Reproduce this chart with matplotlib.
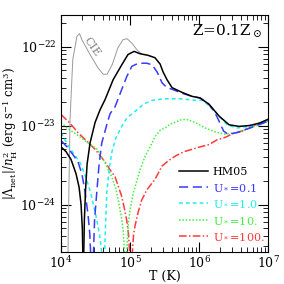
import numpy as np
import matplotlib
matplotlib.use("Agg")
import matplotlib.pyplot as plt

plt.rcParams['font.family'] = 'DejaVu Serif'
plt.rcParams['mathtext.fontset'] = 'dejavuserif'

# log10(T) and log10(|Lambda_net|/nH^2), two branches per curve (below / above the zero crossing)
cie_logT = [4.10, 4.116, 4.13, 4.17, 4.23, 4.268, 4.30, 4.42, 4.536, 4.61, 4.667, 4.74, 4.826, 4.90, 4.957, 5.03, 5.10, 5.16]
cie_logL = [-24.65, -23.68, -22.92, -22.16, -21.87, -21.835, -21.91, -22.10, -22.27, -22.35, -22.35, -22.23, -22.01, -21.91, -21.90, -21.96, -22.04, -22.09]

hm_lo_T = [4.0, 4.072, 4.145, 4.217, 4.261, 4.29, 4.309, 4.316]
hm_lo_L = [-23.27, -23.33, -23.43, -23.61, -23.78, -24.0, -24.32, -24.65]
hm_hi_T = [4.328, 4.338, 4.355, 4.377, 4.42, 4.493, 4.565, 4.638, 4.754, 4.88, 4.97, 5.058, 5.145, 5.26, 5.36,
           5.435, 5.478, 5.536, 5.609, 5.754, 5.899, 6.014, 6.145, 6.29, 6.435, 6.58, 6.725, 6.87, 7.0]
hm_hi_L = [-24.65, -24.19, -23.81, -23.49, -23.22, -22.96, -22.80, -22.67, -22.42, -22.23, -22.10, -22.06, -22.09, -22.11, -22.14,
           -22.22, -22.32, -22.42, -22.52, -22.58, -22.63, -22.65, -22.73, -22.88, -22.99, -23.01, -23.00, -22.97, -22.92]

u01_lo_T = [4.0, 4.087, 4.174, 4.246, 4.304, 4.348, 4.391, 4.417, 4.43]
u01_lo_L = [-23.19, -23.27, -23.37, -23.46, -23.62, -23.84, -24.13, -24.38, -24.65]
u01_hi_T = [4.468, 4.486, 4.517, 4.551, 4.59, 4.662, 4.71, 4.783, 4.88, 4.952, 5.025, 5.12, 5.242, 5.319, 5.391, 5.464,
            5.536, 5.609, 5.754, 5.899, 6.014, 6.13, 6.203, 6.26, 6.304, 6.355, 6.42, 6.546, 6.739, 6.928, 7.0]
u01_hi_L = [-24.65, -24.19, -23.85, -23.49, -23.22, -22.99, -22.85, -22.76, -22.54, -22.38, -22.25, -22.21, -22.21, -22.23, -22.32, -22.46,
            -22.52, -22.54, -22.59, -22.63, -22.65, -22.72, -22.80, -22.89, -22.97, -23.07, -23.11, -23.09, -23.03, -22.97, -22.94]

u1_lo_T = [4.0, 4.101, 4.203, 4.275, 4.362, 4.435, 4.517, 4.565, 4.594]
u1_lo_L = [-23.09, -23.25, -23.38, -23.47, -23.66, -23.87, -24.19, -24.42, -24.65]
u1_hi_T = [4.63, 4.645, 4.662, 4.696, 4.735, 4.797, 4.88, 4.957, 5.072, 5.193, 5.319, 5.507, 5.725, 5.942, 6.058,
           6.145, 6.246, 6.333, 6.406, 6.546, 6.739, 6.884, 7.0]
u1_hi_L = [-24.65, -24.25, -23.85, -23.56, -23.34, -23.15, -23.01, -22.90, -22.82, -22.73, -22.68, -22.66, -22.66, -22.68, -22.68,
           -22.75, -22.84, -22.92, -22.99, -23.03, -23.01, -22.97, -22.94]

u10_lo_T = [4.0, 4.087, 4.203, 4.391, 4.522, 4.638, 4.735, 4.797, 4.841, 4.88, 4.903, 4.92]
u10_lo_L = [-22.96, -23.03, -23.10, -23.22, -23.30, -23.47, -23.65, -23.81, -24.0, -24.19, -24.35, -24.65]
u10_hi_T = [4.949, 4.975, 5.007, 5.048, 5.145, 5.217, 5.29, 5.362, 5.435, 5.507, 5.58, 5.652, 5.725, 5.812, 5.942,
            6.087, 6.232, 6.377, 6.522, 6.739, 7.0]
u10_hi_L = [-24.65, -24.23, -24.03, -23.85, -23.56, -23.39, -23.27, -23.14, -23.06, -23.03, -22.98, -22.96, -22.93, -22.92, -22.96,
            -23.03, -23.08, -23.11, -23.09, -23.03, -22.95]

u100_lo_T = [4.0, 4.13, 4.246, 4.377, 4.493, 4.638, 4.71, 4.783, 4.88, 4.92, 4.952, 4.978, 4.996]
u100_lo_L = [-22.86, -22.97, -23.09, -23.20, -23.30, -23.46, -23.56, -23.65, -23.90, -24.06, -24.20, -24.38, -24.65]
u100_hi_T = [5.029, 5.051, 5.072, 5.116, 5.17, 5.246, 5.362, 5.464, 5.58, 5.667, 5.783, 5.899, 6.014, 6.145, 6.261,
             6.377, 6.493, 6.623, 6.739, 6.87, 7.0]
u100_hi_L = [-24.65, -24.38, -24.27, -24.10, -23.94, -23.81, -23.68, -23.51, -23.43, -23.38, -23.33, -23.30, -23.27, -23.24, -23.18,
             -23.15, -23.10, -23.07, -23.02, -22.97, -22.94]

labels = ["HM05", r"U$_*$=0.1", r"U$_*$=1.0", r"U$_*$=10.", r"U$_*$=100."]
colors = ["black", "#3a3aff", "#22eeee", "#44ee44", "#ff3a3a"]
styles = ["-", (0, (6, 3)), (0, (2.5, 2)), (0, (1, 1.2)), (0, (5, 1.5, 1, 1.5))]
widths = [1.1, 1.1, 1.1, 1.1, 1.1]

branches = [
    (hm_lo_T, hm_lo_L, hm_hi_T, hm_hi_L),
    (u01_lo_T, u01_lo_L, u01_hi_T, u01_hi_L),
    (u1_lo_T, u1_lo_L, u1_hi_T, u1_hi_L),
    (u10_lo_T, u10_lo_L, u10_hi_T, u10_hi_L),
    (u100_lo_T, u100_lo_L, u100_hi_T, u100_hi_L),
]

fig = plt.figure(figsize=(2.84, 2.84), dpi=100)
ax = fig.add_axes([0.215, 0.113, 0.729, 0.834])

ax.plot(10**np.array(cie_logT), 10**np.array(cie_logL), color="0.6", lw=0.7)
ax.text(10**4.45, 10**-22.0, "CIE", color="0.5", fontsize=8, rotation=-55, ha="center", va="center")

# draw from last to first so black stays on top
for i in range(len(branches) - 1, -1, -1):
    loT, loL, hiT, hiL = branches[i]
    ax.plot(10**np.array(loT), 10**np.array(loL), color=colors[i], ls=styles[i], lw=widths[i])
    ax.plot(10**np.array(hiT), 10**np.array(hiL), color=colors[i], ls=styles[i], lw=widths[i], label=labels[i])

ax.set_xscale("log")
ax.set_yscale("log")
ax.set_xlim(1e4, 1e7)
ax.set_ylim(10**-24.6, 10**-21.6)
ax.set_xticks([1e4, 1e5, 1e6, 1e7])
ax.set_yticks([1e-24, 1e-23, 1e-22])
ax.tick_params(which="both", direction="in", top=True, right=True, labelsize=9)
ax.tick_params(axis="x", which="major", pad=2.5)
ax.tick_params(which="major", length=7, width=0.8)
ax.tick_params(which="minor", length=3.5, width=0.6)
for s in ax.spines.values():
    s.set_linewidth(0.8)

ax.set_xlabel("T (K)", fontsize=9, labelpad=-1)
ax.set_ylabel(r"$|\Lambda_{\rm net}|/n_{\rm H}^2$ (erg s$^{-1}$ cm$^3$)", fontsize=8.5, labelpad=0)
ax.text(0.97, 0.93, r"Z=0.1Z$_\odot$", transform=ax.transAxes, fontsize=11, ha="right", va="center")

h, l = ax.get_legend_handles_labels()
h, l = h[::-1], l[::-1]
ax.legend(h, l, loc="lower right", bbox_to_anchor=(1.03, 0.0), frameon=False, fontsize=8,
          handlelength=2.6, handletextpad=0.4, labelspacing=0.55, labelcolor="linecolor")

fig.savefig("out.png", dpi=100)
